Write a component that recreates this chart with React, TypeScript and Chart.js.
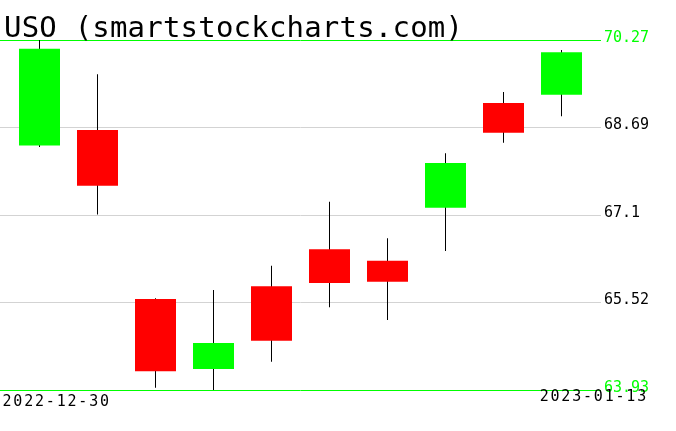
import React, { useEffect, useRef } from "react";
import { Chart, registerables } from "chart.js";

Chart.register(...registerables);

const TITLE = "USO (smartstockcharts.com)";
const dates = [
  "2022-12-30", "2023-01-03", "2023-01-04", "2023-01-05", "2023-01-06",
  "2023-01-09", "2023-01-10", "2023-01-11", "2023-01-12", "2023-01-13",
];
const opens = [68.36, 68.64, 65.58, 64.31, 65.81, 66.48, 66.27, 67.23, 69.13, 69.28];
const highs = [70.27, 69.65, 65.59, 65.74, 66.18, 67.34, 66.68, 68.22, 69.33, 70.09];
const lows = [68.33, 67.11, 63.97, 63.93, 64.44, 65.43, 65.2, 66.45, 68.41, 68.89];
const closes = [70.11, 67.63, 64.27, 64.78, 64.82, 65.87, 65.89, 68.04, 68.59, 70.05];
const yTicks = [63.93, 65.52, 67.1, 68.69, 70.27];
const yTickLabels = ["63.93", "65.52", "67.1", "68.69", "70.27"];
const dateLabels = [dates[0], dates[dates.length - 1]];

const UP = "#00ff00";
const DOWN = "#ff0000";
const GRID = "#d3d3d3";
const EDGE = "#00ff00";
const MONO = "'DejaVu Sans Mono', monospace";

export default function App() {
  const ref = useRef<HTMLCanvasElement>(null);

  useEffect(() => {
    const canvas = ref.current;
    if (!canvas) return;
    const W = 676;
    const RIGHT = 75;
    const TOP = 40;
    const BOTTOM = 41;
    const plotW = W - RIGHT;
    const step = 58;
    const first = 39.5;
    const xMin = -first / step;
    const xMax = xMin + plotW / step;
    const bodyColors = opens.map((o, i) => (closes[i] >= o ? UP : DOWN));
    const last = yTicks.length - 1;

    const overlay = {
      id: "overlay",
      afterDraw(chart: any) {
        const ctx = chart.ctx as CanvasRenderingContext2D;
        ctx.save();
        ctx.fillStyle = "#000";
        ctx.textBaseline = "alphabetic";
        ctx.textAlign = "left";
        ctx.font = `29px ${MONO}`;
        (ctx as any).letterSpacing = "0.2px";
        ctx.fillText(TITLE, 4, 37);
        ctx.font = `15px ${MONO}`;
        (ctx as any).letterSpacing = "1.8px";
        ctx.fillText(dateLabels[0], 2.5, 406);
        ctx.textAlign = "right";
        ctx.fillText(dateLabels[1], 648, 401);
        ctx.restore();
      },
    };

    const chart = new Chart(canvas, {
      type: "bar",
      data: {
        datasets: [
          {
            label: "body",
            data: opens.map((o, i) => ({ x: i, y: [o, closes[i]] })) as any,
            backgroundColor: bodyColors,
            barThickness: 41,
            grouped: false,
            order: 0,
            inflateAmount: 0,
            borderWidth: 0,
          } as any,
          {
            label: "wick",
            data: lows.map((l, i) => ({ x: i, y: [l, highs[i]] })) as any,
            backgroundColor: "#000000",
            barThickness: 1,
            grouped: false,
            order: 1,
            inflateAmount: 0,
            borderWidth: 0,
          } as any,
        ],
      },
      options: {
        responsive: false,
        animation: false,
        layout: { padding: { top: TOP, bottom: BOTTOM, left: 0, right: 0 } },
        plugins: {
          legend: { display: false },
          tooltip: { enabled: false },
          title: { display: false },
        },
        scales: {
          x: { type: "linear", display: false, min: xMin, max: xMax, offset: false },
          y: {
            type: "linear",
            position: "right",
            min: yTicks[0],
            max: yTicks[last],
            z: 1,
            afterFit: (s: any) => {
              s.width = RIGHT;
            },
            afterBuildTicks: (s: any) => {
              s.ticks = yTicks.map((v) => ({ value: v }));
            },
            grid: {
              color: (c: any) => (c.index === 0 || c.index === last ? EDGE : GRID),
              lineWidth: 1,
              drawTicks: false,
            },
            border: { display: false },
            ticks: {
              autoSkip: false,
              callback: (_v: any, i: number) => yTickLabels[i],
              color: (c: any) => (c.index === 0 || c.index === last ? EDGE : "#000000"),
              font: { family: MONO, size: 15 },
              padding: 3,
              labelOffset: -2,
            },
          } as any,
        },
      },
      plugins: [overlay],
    });
    return () => chart.destroy();
  }, []);

  return (
    <div style={{ position: "fixed", left: 0, top: 0, width: 676, height: 431, background: "#fff" }}>
      <canvas ref={ref} width={676} height={431} style={{ display: "block" }} />
    </div>
  );
}
